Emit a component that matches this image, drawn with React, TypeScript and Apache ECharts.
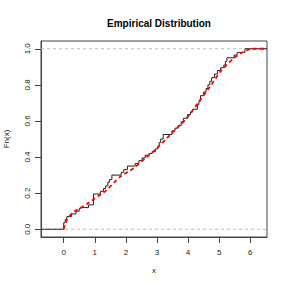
import React, { useEffect, useRef } from "react";
import * as echarts from "echarts";

const title = "Empirical Distribution";
const xName = "x";
const yName = "Fn(x)";
const xRange = [-0.73, 6.54];
const yRange = [-0.043, 1.043];
const xTicks = [0, 1, 2, 3, 4, 5, 6];
const yTicks = [0, 0.2, 0.4, 0.6, 0.8, 1.0];

// empirical step function: jump locations and level after each jump
const stepX = [-0.73, 0.0, 0.05, 0.1, 0.25, 0.4, 0.5, 0.55, 0.8, 0.96, 1.18, 1.28, 1.35, 1.42, 1.47, 1.55, 1.85, 1.93, 2.05, 2.3, 2.42, 2.52, 2.62, 2.75, 2.85, 2.95, 3.03, 3.07, 3.12, 3.2, 3.48, 3.58, 3.68, 3.78, 3.85, 3.98, 4.08, 4.15, 4.3, 4.35, 4.4, 4.5, 4.58, 4.64, 4.7, 4.76, 4.85, 4.95, 5.05, 5.15, 5.2, 5.25, 5.48, 5.58, 5.83, 6.54];
const stepY = [0, 0.036, 0.055, 0.07, 0.085, 0.1, 0.115, 0.12, 0.135, 0.195, 0.21, 0.225, 0.24, 0.26, 0.275, 0.3, 0.315, 0.33, 0.35, 0.365, 0.38, 0.395, 0.41, 0.42, 0.43, 0.445, 0.46, 0.48, 0.5, 0.525, 0.545, 0.56, 0.575, 0.595, 0.615, 0.635, 0.65, 0.665, 0.69, 0.71, 0.74, 0.76, 0.78, 0.8, 0.82, 0.84, 0.86, 0.88, 0.895, 0.91, 0.93, 0.95, 0.965, 0.98, 1.0, 1.0];

// theoretical CDF (red dashed)
const cdfX = [0, 0.05, 0.1, 0.18, 0.26, 0.38, 0.52, 0.74, 1.0, 1.38, 1.81, 2.24, 2.67, 2.99, 3.31, 3.63, 3.95, 4.38, 4.7, 5.03, 5.45, 5.7, 5.93, 6.0, 6.54];
const cdfY = [0, 0.03, 0.05, 0.07, 0.088, 0.103, 0.116, 0.14, 0.17, 0.217, 0.29, 0.337, 0.4, 0.447, 0.503, 0.558, 0.613, 0.714, 0.788, 0.871, 0.945, 0.975, 0.994, 1.0, 1.0];

const refLines = [0, 1];

export default function App() {
  const ref = useRef<HTMLDivElement>(null);
  useEffect(() => {
    if (!ref.current) return;
    const chart = echarts.init(ref.current, null, { renderer: "svg" });
    const font = "Liberation Sans, Arial, Helvetica, sans-serif";
    const axisCol = "#444";
    chart.setOption({
      animation: false,
      backgroundColor: "#fff",
      textStyle: { fontFamily: font },
      title: {
        text: title,
        left: 154,
        top: 13,
        textAlign: "center",
        textStyle: { fontSize: 10, fontWeight: "bold", color: "#000", fontFamily: font },
      },
      grid: {
        left: 41,
        right: 21,
        top: 41,
        bottom: 51,
        containLabel: false,
        outerBoundsMode: "none",
        show: true,
        borderColor: axisCol,
        borderWidth: 1,
        backgroundColor: "transparent",
      },
      xAxis: {
        type: "value",
        min: xRange[0],
        max: xRange[1],
        name: xName,
        nameLocation: "middle",
        nameGap: 29,
        nameTextStyle: { fontSize: 8, color: "#222", fontFamily: font },
        axisLine: { show: true, onZero: false, lineStyle: { color: axisCol, width: 1 } },
        splitLine: { show: false },
        axisTick: { show: true, inside: false, length: 6, customValues: xTicks, lineStyle: { color: axisCol, width: 1 } },
        axisLabel: { customValues: xTicks, fontSize: 8, color: "#222", margin: 11, fontFamily: font },
      },
      yAxis: {
        type: "value",
        min: yRange[0],
        max: yRange[1],
        name: yName,
        nameLocation: "middle",
        nameGap: 31,
        nameTextStyle: { fontSize: 8, color: "#222", fontFamily: font },
        axisLine: { show: true, onZero: false, lineStyle: { color: axisCol, width: 1 } },
        splitLine: { show: false },
        axisTick: { show: true, inside: false, length: 6, customValues: yTicks, lineStyle: { color: axisCol, width: 1 } },
        axisLabel: {
          customValues: yTicks,
          rotate: 90,
          fontSize: 8,
          color: "#222",
          margin: 10,
          fontFamily: font,
          formatter: (v: number) => v.toFixed(1),
        },
      },
      series: [
        ...refLines.map((v) => ({
          type: "line",
          data: [[xRange[0], v], [xRange[1], v]],
          symbol: "none",
          silent: true,
          lineStyle: { color: "#bbb", width: 1, type: [3, 3] },
          z: 1,
        })),
        {
          type: "line",
          step: "end",
          data: stepX.map((x, i) => [x, stepY[i]]),
          symbol: "none",
          lineStyle: { color: "#222", width: 1 },
          z: 2,
        },
        {
          type: "line",
          data: cdfX.map((x, i) => [x, cdfY[i]]),
          symbol: "none",
          smooth: 0.2,
          lineStyle: { color: "#ff0000", width: 1.8, type: [4, 3] },
          z: 3,
        },
      ],
    });
    return () => chart.dispose();
  }, []);
  return <div ref={ref} style={{ width: 288, height: 288, position: "absolute", left: 0, top: 0 }} />;
}
